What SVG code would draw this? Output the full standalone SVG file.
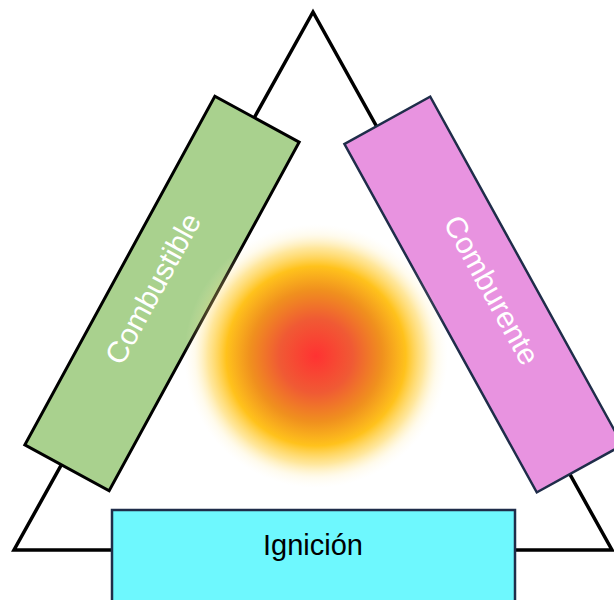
<svg xmlns="http://www.w3.org/2000/svg" width="614" height="600" viewBox="0 0 614 600">
  <defs>
    <radialGradient id="glow" cx="316" cy="356" r="132" gradientUnits="userSpaceOnUse">
      <stop offset="0" stop-color="#ff3232"/>
      <stop offset="0.28" stop-color="#f05a34"/>
      <stop offset="0.5" stop-color="#f0901e"/>
      <stop offset="0.68" stop-color="#ffc21c"/>
      <stop offset="0.82" stop-color="#ffd34c" stop-opacity="0.55"/>
      <stop offset="0.92" stop-color="#ffe89a" stop-opacity="0.18"/>
      <stop offset="1" stop-color="#fff2cc" stop-opacity="0"/>
    </radialGradient>
    <style>
      .label { font-family: "Liberation Sans", Arial, sans-serif; text-anchor: middle; }
      .side { font-size: 30px; fill: #ffffff; }
    </style>
  </defs>
  <rect width="614" height="600" fill="#ffffff"/>

  <!-- fire triangle outline -->
  <polygon points="313,12 14,550 612,550" fill="none" stroke="#000000" stroke-width="3.5" stroke-linejoin="miter"/>

  <g id="combustible" transform="translate(162,293.5) rotate(-61.4)">
    <rect x="-198.5" y="-48" width="397" height="96" fill="#a9d18e" stroke="#000000" stroke-width="3"/>
    <text class="label side" x="0" y="0">Combustible</text>
  </g>

  <g id="comburente" transform="translate(483.5,294.5) rotate(61.1)">
    <rect x="-199" y="-49" width="398" height="98" fill="#e893e0" stroke="#1f2d4a" stroke-width="2.5"/>
    <text class="label side" x="0" y="1">Comburente</text>
  </g>

  <!-- flame glow in the middle -->
  <circle id="llama" cx="316" cy="356" r="132" fill="url(#glow)"/>

  <g id="ignicion">
    <rect x="112" y="510" width="403" height="100" fill="#6ef8fe" stroke="#1f2d4a" stroke-width="2.5"/>
    <text class="label" x="313" y="555" font-size="29" fill="#000000">Ignición</text>
  </g>
</svg>
